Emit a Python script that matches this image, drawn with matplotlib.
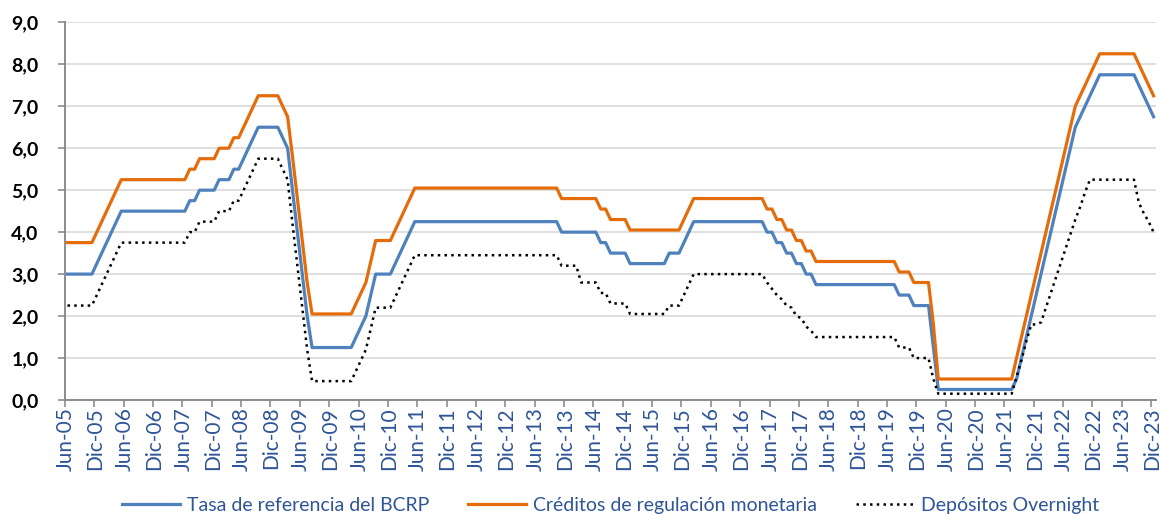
import matplotlib
matplotlib.use("Agg")
import matplotlib.pyplot as plt
import numpy as np

# monthly data, Jun-05 .. Dic-23 (end of month, %)
tasa_referencia = [
    3.00, 3.00, 3.00, 3.00, 3.00, 3.00, 3.25,
    3.50, 3.75, 4.00, 4.25, 4.50, 4.50, 4.50, 4.50, 4.50, 4.50, 4.50, 4.50,
    4.50, 4.50, 4.50, 4.50, 4.50, 4.50, 4.75, 4.75, 5.00, 5.00, 5.00, 5.00,
    5.25, 5.25, 5.25, 5.50, 5.50, 5.75, 6.00, 6.25, 6.50, 6.50, 6.50, 6.50,
    6.50, 6.25, 6.00, 5.00, 4.00, 3.00, 2.00, 1.25, 1.25, 1.25, 1.25, 1.25,
    1.25, 1.25, 1.25, 1.25, 1.50, 1.75, 2.00, 2.50, 3.00, 3.00, 3.00, 3.00,
    3.25, 3.50, 3.75, 4.00, 4.25, 4.25, 4.25, 4.25, 4.25, 4.25, 4.25, 4.25,
    4.25, 4.25, 4.25, 4.25, 4.25, 4.25, 4.25, 4.25, 4.25, 4.25, 4.25, 4.25,
    4.25, 4.25, 4.25, 4.25, 4.25, 4.25, 4.25, 4.25, 4.25, 4.25, 4.00, 4.00,
    4.00, 4.00, 4.00, 4.00, 4.00, 4.00, 3.75, 3.75, 3.50, 3.50, 3.50, 3.50,
    3.25, 3.25, 3.25, 3.25, 3.25, 3.25, 3.25, 3.25, 3.50, 3.50, 3.50, 3.75,
    4.00, 4.25, 4.25, 4.25, 4.25, 4.25, 4.25, 4.25, 4.25, 4.25, 4.25, 4.25,
    4.25, 4.25, 4.25, 4.25, 4.00, 4.00, 3.75, 3.75, 3.50, 3.50, 3.25, 3.25,
    3.00, 3.00, 2.75, 2.75, 2.75, 2.75, 2.75, 2.75, 2.75, 2.75, 2.75, 2.75,
    2.75, 2.75, 2.75, 2.75, 2.75, 2.75, 2.75, 2.50, 2.50, 2.50, 2.25, 2.25,
    2.25, 2.25, 1.25, 0.25, 0.25, 0.25, 0.25, 0.25, 0.25, 0.25, 0.25, 0.25,
    0.25, 0.25, 0.25, 0.25, 0.25, 0.25, 0.25, 0.50, 1.00, 1.50, 2.00, 2.50,
    3.00, 3.50, 4.00, 4.50, 5.00, 5.50, 6.00, 6.50, 6.75, 7.00, 7.25, 7.50,
    7.75, 7.75, 7.75, 7.75, 7.75, 7.75, 7.75, 7.75, 7.50, 7.25, 7.00, 6.75,
]

creditos = [
    3.75, 3.75, 3.75, 3.75, 3.75, 3.75, 4.00,
    4.25, 4.50, 4.75, 5.00, 5.25, 5.25, 5.25, 5.25, 5.25, 5.25, 5.25, 5.25,
    5.25, 5.25, 5.25, 5.25, 5.25, 5.25, 5.50, 5.50, 5.75, 5.75, 5.75, 5.75,
    6.00, 6.00, 6.00, 6.25, 6.25, 6.50, 6.75, 7.00, 7.25, 7.25, 7.25, 7.25,
    7.25, 7.00, 6.75, 5.80, 4.80, 3.80, 2.80, 2.05, 2.05, 2.05, 2.05, 2.05,
    2.05, 2.05, 2.05, 2.05, 2.30, 2.55, 2.80, 3.30, 3.80, 3.80, 3.80, 3.80,
    4.05, 4.30, 4.55, 4.80, 5.05, 5.05, 5.05, 5.05, 5.05, 5.05, 5.05, 5.05,
    5.05, 5.05, 5.05, 5.05, 5.05, 5.05, 5.05, 5.05, 5.05, 5.05, 5.05, 5.05,
    5.05, 5.05, 5.05, 5.05, 5.05, 5.05, 5.05, 5.05, 5.05, 5.05, 4.80, 4.80,
    4.80, 4.80, 4.80, 4.80, 4.80, 4.80, 4.55, 4.55, 4.30, 4.30, 4.30, 4.30,
    4.05, 4.05, 4.05, 4.05, 4.05, 4.05, 4.05, 4.05, 4.05, 4.05, 4.05, 4.30,
    4.55, 4.80, 4.80, 4.80, 4.80, 4.80, 4.80, 4.80, 4.80, 4.80, 4.80, 4.80,
    4.80, 4.80, 4.80, 4.80, 4.55, 4.55, 4.30, 4.30, 4.05, 4.05, 3.80, 3.80,
    3.55, 3.55, 3.30, 3.30, 3.30, 3.30, 3.30, 3.30, 3.30, 3.30, 3.30, 3.30,
    3.30, 3.30, 3.30, 3.30, 3.30, 3.30, 3.30, 3.05, 3.05, 3.05, 2.80, 2.80,
    2.80, 2.80, 1.80, 0.50, 0.50, 0.50, 0.50, 0.50, 0.50, 0.50, 0.50, 0.50,
    0.50, 0.50, 0.50, 0.50, 0.50, 0.50, 0.50, 1.00, 1.50, 2.00, 2.50, 3.00,
    3.50, 4.00, 4.50, 5.00, 5.50, 6.00, 6.50, 7.00, 7.25, 7.50, 7.75, 8.00,
    8.25, 8.25, 8.25, 8.25, 8.25, 8.25, 8.25, 8.25, 8.00, 7.75, 7.50, 7.25,
]

overnight = [
    2.25, 2.25, 2.25, 2.25, 2.25, 2.25, 2.50,
    2.75, 3.00, 3.25, 3.50, 3.75, 3.75, 3.75, 3.75, 3.75, 3.75, 3.75, 3.75,
    3.75, 3.75, 3.75, 3.75, 3.75, 3.75, 4.00, 4.00, 4.25, 4.25, 4.25, 4.25,
    4.50, 4.50, 4.50, 4.75, 4.75, 5.00, 5.25, 5.50, 5.75, 5.75, 5.75, 5.75,
    5.75, 5.50, 5.25, 4.20, 3.20, 2.20, 1.20, 0.45, 0.45, 0.45, 0.45, 0.45,
    0.45, 0.45, 0.45, 0.45, 0.70, 0.95, 1.20, 1.70, 2.20, 2.20, 2.20, 2.20,
    2.45, 2.70, 2.95, 3.20, 3.45, 3.45, 3.45, 3.45, 3.45, 3.45, 3.45, 3.45,
    3.45, 3.45, 3.45, 3.45, 3.45, 3.45, 3.45, 3.45, 3.45, 3.45, 3.45, 3.45,
    3.45, 3.45, 3.45, 3.45, 3.45, 3.45, 3.45, 3.45, 3.45, 3.45, 3.20, 3.20,
    3.20, 3.20, 2.80, 2.80, 2.80, 2.80, 2.55, 2.55, 2.30, 2.30, 2.30, 2.30,
    2.05, 2.05, 2.05, 2.05, 2.05, 2.05, 2.05, 2.05, 2.25, 2.25, 2.25, 2.50,
    2.75, 3.00, 3.00, 3.00, 3.00, 3.00, 3.00, 3.00, 3.00, 3.00, 3.00, 3.00,
    3.00, 3.00, 3.00, 3.00, 2.80, 2.65, 2.50, 2.40, 2.25, 2.20, 2.00, 1.95,
    1.75, 1.65, 1.50, 1.50, 1.50, 1.50, 1.50, 1.50, 1.50, 1.50, 1.50, 1.50,
    1.50, 1.50, 1.50, 1.50, 1.50, 1.50, 1.50, 1.25, 1.25, 1.25, 1.00, 1.00,
    1.00, 1.00, 0.50, 0.15, 0.15, 0.15, 0.15, 0.15, 0.15, 0.15, 0.15, 0.15,
    0.15, 0.15, 0.15, 0.15, 0.15, 0.15, 0.15, 0.55, 0.95, 1.40, 1.80, 1.80,
    1.85, 2.20, 2.55, 2.90, 3.25, 3.60, 3.95, 4.30, 4.60, 4.95, 5.25, 5.25,
    5.25, 5.25, 5.25, 5.25, 5.25, 5.25, 5.25, 5.25, 4.70, 4.45, 4.25, 4.00,
]

etiquetas = [
    "Jun-05", "Dic-05", "Jun-06", "Dic-06", "Jun-07", "Dic-07", "Jun-08", "Dic-08",
    "Jun-09", "Dic-09", "Jun-10", "Dic-10", "Jun-11", "Dic-11", "Jun-12", "Dic-12",
    "Jun-13", "Dic-13", "Jun-14", "Dic-14", "Jun-15", "Dic-15", "Jun-16", "Dic-16",
    "Jun-17", "Dic-17", "Jun-18", "Dic-18", "Jun-19", "Dic-19", "Jun-20", "Dic-20",
    "Jun-21", "Dic-21", "Jun-22", "Dic-22", "Jun-23", "Dic-23",
]

plt.rcParams['font.family'] = ['Lato', 'DejaVu Sans']

azul_txt = '#2F5597'
gris = '#8C8C8C'

fig = plt.figure(figsize=(11.61, 5.14), dpi=100)
ax = fig.add_axes([65 / 1161, 114 / 514, 1091 / 1161, 377.7 / 514])

x = np.arange(len(tasa_referencia))
ax.plot(x, tasa_referencia, color='#4F81BD', lw=2.3, label='Tasa de referencia del BCRP', zorder=3)
ax.plot(x, creditos, color='#E46C0A', lw=2.3, label='Créditos de regulación monetaria', zorder=3)
ax.plot(x, overnight, color='black', lw=1.8, linestyle=(0, (1, 1.7)),
        label='Depósitos Overnight', zorder=3)

ax.set_xlim(-0.5, len(x) - 0.5)
ax.set_ylim(0, 9)

# tick marks at category boundaries, labels just right of them
bordes = np.arange(len(etiquetas)) * 6 - 0.5
ax.set_xticks(bordes + 0.2)
ax.set_xticklabels(etiquetas, rotation=90, color=azul_txt, fontsize=15)
ax.set_xticks(bordes, minor=True)
ax.tick_params(axis='x', which='major', length=0, pad=5)
ax.tick_params(axis='x', which='minor', length=5, width=1.2, color=gris)

yt = np.arange(0, 10)
ax.set_yticks(yt)
ax.set_yticklabels([f"{v:.1f}".replace('.', ',') for v in yt], fontsize=14, fontweight='bold')
ax.tick_params(axis='y', length=5, width=1.2, color=gris, pad=14)

ax.grid(axis='y', color='#D9D9D9', lw=1.2, zorder=0)
ax.set_axisbelow(True)
for s in ['top', 'right']:
    ax.spines[s].set_visible(False)
for s in ['left', 'bottom']:
    ax.spines[s].set_color(gris)
    ax.spines[s].set_linewidth(1.4)
ax.spines['bottom'].set_zorder(4)

ax.legend(loc='center', bbox_to_anchor=(0.5, -0.28), ncol=3, frameon=False,
          fontsize=14, labelcolor=azul_txt, handlelength=3.0, handletextpad=0.35,
          columnspacing=2.0)

fig.savefig('out.png', dpi=100)
